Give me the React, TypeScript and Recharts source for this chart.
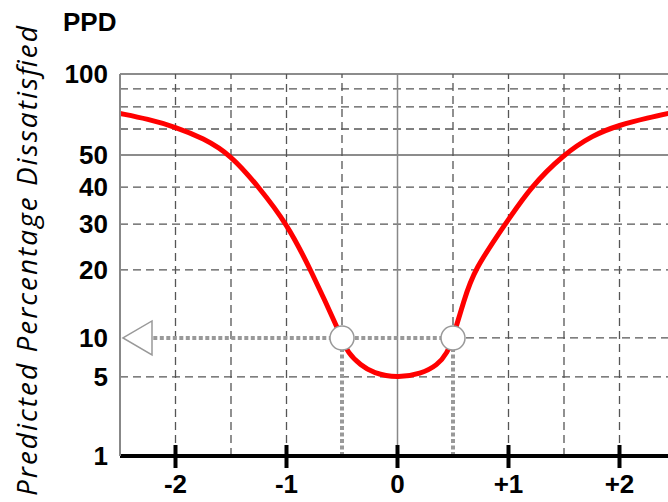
import React from 'react';
import { LineChart, Line, XAxis, YAxis, ReferenceLine, ReferenceDot } from 'recharts';

// PMV (x) and PPD (y), mostly where it crosses the grid lines
const pmvValues = [
  -2.5, -2.25, -2, -1.75, -1.5, -1.25, -1, -0.78, -0.5, -0.45, -0.33, -0.22, 0,
  0.21, 0.36, 0.45, 0.5, 0.6, 0.69, 0.97, 1.2, 1.49, 1.76, 2, 2.25, 2.5,
];
const ppdValues = [
  67, 64.5, 60.9, 56.5, 50, 40, 30.3, 20, 10, 8.1, 6.5, 5.5, 4.95,
  5.4, 6.5, 8.1, 10, 15.6, 20, 30, 40, 50, 57.7, 61.8, 65, 67.7,
];

// the PPD axis is not linear: each stop value sits at a fixed share of the axis height
const ppdStops = [1, 5, 10, 20, 30, 40, 50, 60, 70, 80, 100];
const stopLevels = [0, 20.7, 30.9, 48.7, 60.7, 70.4, 78.8, 85.6, 91.4, 96.1, 100];

const yTickLabels = [1, 5, 10, 20, 30, 40, 50, 100];
const yDashed = [5, 20, 30, 40, 60, 70, 80];
const ySolid = [50, 100];
const xTicks = [-2, -1, 0, 1, 2];
const xDashed = [-2, -1.5, -1, 1, 1.5, 2];
const xCut = [-0.5, 0.5]; // dashed above the 10% line, dotted below
const limitPPD = 10;
const arrowFrom = -2.2;

const toAxis = (v: number) => {
  for (let i = 1; i < ppdStops.length; i++) {
    if (v <= ppdStops[i]) {
      const t = (v - ppdStops[i - 1]) / (ppdStops[i] - ppdStops[i - 1]);
      return stopLevels[i - 1] + t * (stopLevels[i] - stopLevels[i - 1]);
    }
  }
  return 100;
};

const fromAxis = (u: number) => {
  const i = stopLevels.findIndex((s) => Math.abs(s - u) < 0.01);
  return i >= 0 ? ppdStops[i] : u;
};

const data = pmvValues.map((x, i) => ({ pmv: x, ppd: toAxis(ppdValues[i]) }));

const BOLD = "'Liberation Sans', Arial, sans-serif";
const DASH = '8 5';
const GRID = '#555';
const DOT = '#999';

const XTick = (props: any) => {
  const { x, y, payload } = props;
  const v = payload.value;
  return (
    <g>
      <line x1={x} x2={x} y1={y - 11} y2={y + 12} stroke="#000" strokeWidth={4} />
      <text x={x} y={y + 28} textAnchor="middle" dominantBaseline="central" fontFamily={BOLD} fontWeight="bold" fontSize={26} fill="#000">
        {v > 0 ? `+${v}` : `${v}`}
      </text>
    </g>
  );
};

const Triangle = (props: any) => {
  const { cx, cy } = props;
  return (
    <polygon
      points={`${cx + 3},${cy} ${cx + 32},${cy - 17} ${cx + 32},${cy + 17}`}
      fill="#fff"
      stroke={DOT}
      strokeWidth={1.5}
    />
  );
};

export default function App() {
  const y10 = toAxis(limitPPD);
  return (
    <div style={{ position: 'absolute', left: 0, top: 0, width: 668, height: 502, overflow: 'hidden', background: '#fff' }}>
      <LineChart width={680} height={502} data={data} margin={{ top: 74, right: 5, bottom: 0, left: 0 }}>
        <XAxis
          type="number"
          dataKey="pmv"
          domain={[-2.5, 2.5]}
          ticks={xTicks}
          interval={0}
          height={46}
          tickSize={0}
          tickMargin={0}
          tickLine={false}
          axisLine={{ stroke: '#000', strokeWidth: 4 }}
          tick={<XTick />}
        />
        <YAxis
          type="number"
          domain={[0, 100]}
          ticks={yTickLabels.map(toAxis)}
          interval={0}
          width={120}
          tickSize={0}
          tickMargin={12}
          tickLine={false}
          axisLine={{ stroke: '#888', strokeWidth: 2 }}
          tickFormatter={(u: number) => `${fromAxis(u)}`}
          tick={{ fill: '#000', fontSize: 26, fontWeight: 'bold', fontFamily: BOLD }}
        />

        {yDashed.map((v) => (
          <ReferenceLine key={`yd${v}`} y={toAxis(v)} stroke={GRID} strokeDasharray={DASH} strokeWidth={1.3} zIndex={50} />
        ))}
        {ySolid.map((v) => (
          <ReferenceLine key={`ys${v}`} y={toAxis(v)} stroke="#666" strokeWidth={1.5} zIndex={50} />
        ))}
        {xDashed.map((v) => (
          <ReferenceLine key={`xd${v}`} x={v} stroke={GRID} strokeDasharray={DASH} strokeWidth={1.3} zIndex={50} />
        ))}
        <ReferenceLine x={0} stroke="#888" strokeWidth={1.5} zIndex={50} />
        {xCut.map((v) => (
          <ReferenceLine key={`xc${v}`} segment={[{ x: v, y: y10 }, { x: v, y: 100 }]} stroke={GRID} strokeDasharray={DASH} strokeWidth={1.3} zIndex={50} />
        ))}
        <ReferenceLine segment={[{ x: xCut[1], y: y10 }, { x: 2.5, y: y10 }]} stroke={GRID} strokeDasharray={DASH} strokeWidth={1.3} zIndex={50} />

        <ReferenceLine segment={[{ x: arrowFrom, y: y10 }, { x: xCut[1], y: y10 }]} stroke={DOT} strokeDasharray="4 2.5" strokeWidth={4} zIndex={60} />
        {xCut.map((v) => (
          <ReferenceLine key={`xv${v}`} segment={[{ x: v, y: 0 }, { x: v, y: y10 }]} stroke={DOT} strokeDasharray="4 2.5" strokeWidth={4} zIndex={60} />
        ))}

        <Line type="basis" dataKey="ppd" stroke="#ff0000" strokeWidth={5} dot={false} activeDot={false} isAnimationActive={false} />

        {xCut.map((v) => (
          <ReferenceDot key={`c${v}`} x={v} y={y10} r={12} fill="#fff" stroke={DOT} strokeWidth={1.5} zIndex={700} />
        ))}
        <ReferenceDot x={-2.5} y={y10} r={0} shape={<Triangle />} zIndex={700} />

        <text x={63} y={31} fontFamily={BOLD} fontWeight="bold" fontSize={26} fill="#000">PPD</text>
        <text
          x={37}
          y={261}
          transform="rotate(-90, 37, 261)"
          textAnchor="middle"
          fontFamily="'Open Sans', sans-serif"
          fontStyle="italic"
          fontSize={28}
          textLength={470}
          lengthAdjust="spacing"
          fill="#000"
        >
          Predicted Percentage Dissatisfied
        </text>
      </LineChart>
    </div>
  );
}
